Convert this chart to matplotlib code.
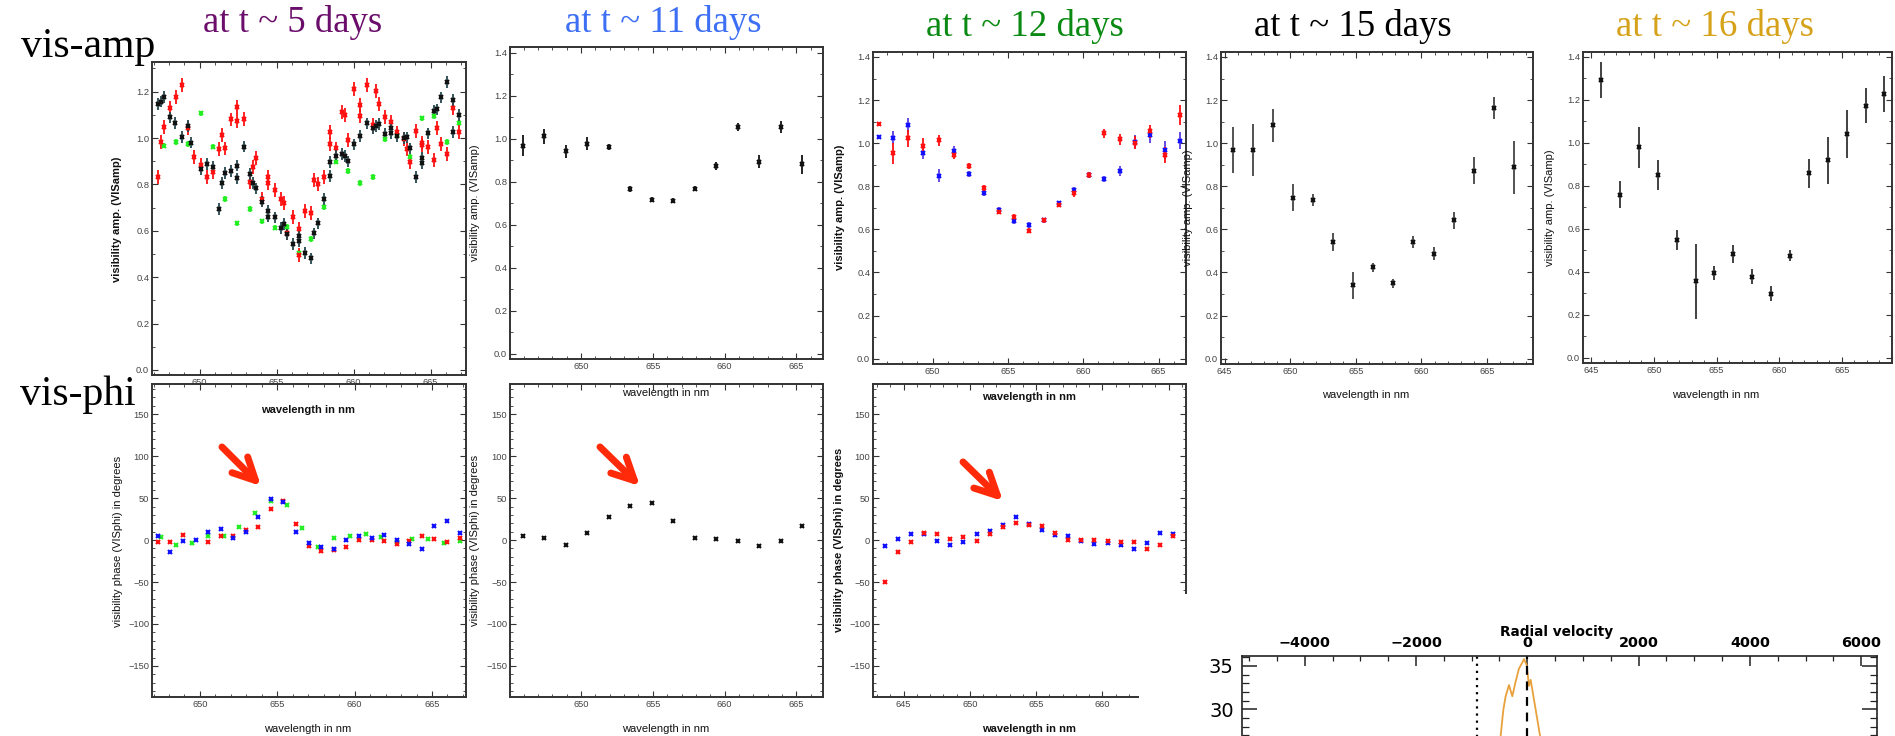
"""Visibility amplitude / phase panels at several epochs + radial velocity inset."""
import numpy as np
import matplotlib
matplotlib.use("Agg")
import matplotlib.pyplot as plt
from matplotlib.patches import FancyArrowPatch, Rectangle
from matplotlib.ticker import MultipleLocator, FixedLocator

plt.rcParams.update({"font.family": ["Liberation Sans", "DejaVu Sans"], "axes.unicode_minus": True})

# ---- t ~ 5 days: amplitude (3 baselines) ----
lam5_k = [647.3, 647.5, 647.7, 648.05, 648.4, 648.85, 649.26, 649.46, 650.06, 650.45, 650.87, 651.26, 651.45,
          651.67, 652.06, 652.45, 652.45, 652.86, 653.25, 653.46, 653.66, 654.07, 654.46, 654.46, 654.87, 655.26,
          655.45, 655.67, 656.06, 656.43, 656.47, 656.84, 657.23, 657.45, 657.66, 658.05, 658.44, 658.44, 658.83,
          659.24, 659.44, 659.65, 660.04, 660.43, 660.84, 661.23, 661.43, 661.65, 662.03, 662.45, 662.45, 662.84,
          663.25, 663.44, 663.64, 664.03, 664.44, 664.44, 664.83, 665.24, 665.43, 665.65, 666.04, 666.43, 666.43,
          666.84]
amp5_k = [1.147, 1.157, 1.178, 1.089, 1.066, 1.004, 1.052, 0.98, 0.865, 0.888, 0.876, 0.693, 0.807, 0.848, 0.859,
          0.881, 0.826, 0.963, 0.845, 0.807, 0.783, 0.726, 0.687, 0.661, 0.658, 0.612, 0.629, 0.585, 0.543, 0.579,
          0.556, 0.503, 0.481, 0.589, 0.632, 0.736, 0.897, 0.836, 0.922, 0.931, 0.922, 0.899, 0.973, 1.009, 1.063,
          1.042, 1.052, 1.06, 1.017, 1.045, 1.023, 1.009, 0.999, 1.003, 0.955, 0.833, 0.914, 0.891, 1.02, 1.118,
          1.124, 1.175, 1.243, 1.164, 1.027, 1.099]
lam5_r = [647.3, 647.47, 647.66, 648.05, 648.44, 648.85, 649.26, 649.65, 650.06, 650.45, 650.87, 651.26, 651.45,
          651.67, 652.06, 652.45, 652.45, 652.86, 653.25, 653.46, 653.66, 654.07, 654.46, 654.46, 654.87, 655.26,
          655.45, 655.67, 656.06, 656.43, 656.47, 656.84, 657.23, 657.45, 657.66, 658.05, 658.44, 658.44, 658.83,
          659.24, 659.44, 659.65, 660.04, 660.43, 660.43, 660.84, 661.23, 661.43, 661.65, 662.03, 662.45, 662.84,
          663.25, 663.44, 663.64, 664.03, 664.44, 664.44, 664.83, 665.24, 665.43, 665.65, 666.04, 666.43, 666.84]
amp5_r = [0.833, 0.984, 1.049, 1.128, 1.178, 1.228, 1.042, 0.92, 0.884, 0.833, 0.855, 0.951, 1.013, 0.955, 1.08,
          1.135, 1.075, 1.082, 0.812, 0.876, 0.912, 0.737, 0.833, 0.805, 0.776, 0.737, 0.721, 0.592, 0.658, 0.606,
          0.496, 0.685, 0.675, 0.819, 0.8, 0.833, 1.027, 0.973, 0.955, 1.111, 1.099, 0.991, 1.21, 1.142, 1.096,
          1.227, 1.056, 1.204, 1.147, 1.092, 1.07, 1.024, 0.994, 0.953, 0.898, 1.03, 0.98, 0.968, 0.963, 0.905,
          1.042, 0.974, 0.931, 1.128, 1.027]
lam5_g = [647.66, 648.44, 649.26, 650.06, 650.87, 651.67, 652.45, 653.25, 654.07, 654.87, 655.67, 656.47, 657.23,
          658.05, 658.83, 659.65, 660.43, 661.23, 662.03, 662.84, 663.64, 664.44, 665.24, 666.04, 666.84]
amp5_g = [0.967, 0.984, 0.974, 1.106, 0.963, 0.736, 0.632, 0.693, 0.641, 0.614, 0.618, 0.503, 0.565, 0.701,
          0.898, 0.859, 0.805, 0.833, 0.994, 1.013, 0.92, 1.085, 1.095, 0.984, 1.066]
err5 = {"k": 0.025, "r": 0.03, "g": 0.012}

# ---- t ~ 5 days: phase ----
lamp5_b = [647.3, 648.08, 648.9, 649.72, 650.52, 651.34, 652.14, 652.96, 653.78, 654.58, 655.4, 656.2, 657.04,
           657.84, 658.66, 659.46, 660.28, 661.1, 661.92, 662.72, 663.54, 664.36, 665.16, 665.98, 666.78]
phi5_b = [4.8, -14.4, -0.8, -0.4, 9.2, 13.2, 2.8, 10, 27.6, 48.8, 45.6, 9.6, -3.2, -8.8, -11.2, 0.4, 5.2, 2, 6, 0,
          -5.2, -10.4, 16.8, 22.8, 8.4]
lamp5_r = [647.3, 648.08, 648.9, 650.52, 651.34, 652.14, 652.96, 653.78, 654.58, 655.4, 656.2, 657.04, 657.84,
           658.66, 659.46, 660.28, 661.1, 661.92, 662.72, 663.54, 664.36, 665.16, 665.98, 666.78]
phi5_r = [-2.4, -2, 6, -2.8, 5.2, 4.8, 12, 15.6, 37.6, 46.8, 18.8, -7.2, -12.8, -12, -8, 0, 0, -0.8, -4.4, -1.6,
          5.2, 1.2, -2.4, 2.8]
lamp5_g = [647.5, 648.48, 649.48, 650.52, 651.54, 652.55, 653.57, 654.58, 655.63, 656.62, 657.66, 658.66, 659.7,
           660.71, 661.73, 662.72, 663.74, 664.76, 665.79, 666.78]
phi5_g = [3.6, -5.6, -3.6, 4.8, 5.2, 15.2, 32.8, 46, 41.6, 14.4, -8, 2.8, 5.2, 7.2, 3.2, -2.8, 0.8, 0.8, -4, -0.8]

# ---- t ~ 11 days ----
lam11 = [645.94, 647.43, 648.93, 650.42, 651.92, 653.41, 654.92, 656.42, 657.91, 659.41, 660.9, 662.4, 663.91, 665.39]
amp11 = [0.967, 1.01, 0.941, 0.976, 0.962, 0.766, 0.716, 0.712, 0.767, 0.874, 1.055, 0.893, 1.055, 0.88]
err11 = [0.05, 0.035, 0.03, 0.03, 0.015, 0.015, 0.012, 0.012, 0.012, 0.018, 0.018, 0.03, 0.028, 0.045]
phi11 = [4.4, 2, -5.6, 7.9, 27.8, 40.5, 44, 22.2, 2, 1.2, -0.8, -7.5, -0.8, 16.3]

# ---- t ~ 12 days ----
lam12 = [646.45, 647.39, 648.38, 649.38, 650.4, 651.4, 652.39, 653.39, 654.41, 655.41, 656.4, 657.4, 658.4,
         659.42, 660.41, 661.41, 662.41, 663.41, 664.43, 665.42, 666.42]
amp12_b = [1.029, 1.025, 1.084, 0.952, 0.849, 0.963, 0.857, 0.77, 0.69, 0.639, 0.62, 0.644, 0.722, 0.783, 0.852,
           0.833, 0.871, 1.006, 1.037, 0.968, 1.011]
err12_b = [0.005, 0.03, 0.035, 0.025, 0.03, 0.025, 0.015, 0.015, 0.012, 0.012, 0.012, 0.01, 0.01, 0.015, 0.015,
           0.015, 0.025, 0.03, 0.035, 0.04, 0.04]
amp12_r = [1.087, 0.952, 1.022, 0.989, 1.014, 0.945, 0.894, 0.793, 0.681, 0.659, 0.594, 0.641, 0.715, 0.767, 0.852,
           1.045, 1.017, 1.002, 1.056, 0.945, 1.13]
err12_r = [0.005, 0.05, 0.04, 0.035, 0.025, 0.02, 0.015, 0.015, 0.012, 0.012, 0.01, 0.012, 0.01, 0.015, 0.015,
           0.02, 0.025, 0.03, 0.03, 0.035, 0.045]
lamp12 = [643.62, 644.6, 645.58, 646.56, 647.56, 648.54, 649.52, 650.53, 651.51, 652.49, 653.49, 654.47, 655.45,
          656.43, 657.44, 658.42, 659.4, 660.4, 661.38, 662.36, 663.37, 664.35, 665.33]
phi12_b = [-7.5, 1.6, 7.5, 7.1, -1.6, -5.6, -2.8, 7.5, 11.1, 17.5, 27.8, 19, 11.5, 6, 4.4, -1.6, -5.2, -4, -6,
           -10.7, -4, 8.7, 7.1]
phi12_r = [-50.4, -14.7, -2, 7.9, 6.7, 0.8, 4, -1.2, 6.7, 15.1, 20.2, 17.9, 16.3, 8.3, -0.4, -0.4, 0.4, -0.8, -2.8,
           -2.8, -10.7, -5.6, 4.4]

# ---- t ~ 15 days ----
lam15 = [645.64, 647.19, 648.71, 650.23, 651.75, 653.29, 654.81, 656.33, 657.85, 659.37, 660.94, 662.46, 663.98,
         665.5, 667.03]
amp15 = [0.968, 0.968, 1.083, 0.747, 0.736, 0.54, 0.34, 0.423, 0.35, 0.54, 0.486, 0.641, 0.872, 1.164, 0.887]
err15 = [0.108, 0.12, 0.076, 0.062, 0.03, 0.042, 0.063, 0.02, 0.02, 0.028, 0.03, 0.04, 0.062, 0.05, 0.123]

# ---- t ~ 16 days ----
lam16 = [645.75, 647.27, 648.79, 650.28, 651.8, 653.32, 654.81, 656.33, 657.83, 659.35, 660.87, 662.36, 663.88,
         665.37, 666.89, 668.39]
amp16 = [1.292, 0.758, 0.979, 0.849, 0.548, 0.355, 0.395, 0.482, 0.377, 0.298, 0.474, 0.858, 0.918, 1.042, 1.173,
         1.227]
err16 = [0.083, 0.063, 0.095, 0.07, 0.046, 0.174, 0.033, 0.042, 0.034, 0.034, 0.026, 0.068, 0.11, 0.112, 0.081,
         0.085]

# ---- radial velocity profile (only the top of it is visible) ----
rv_vel = [-560, -480, -432, -390, -330, -270, -210, -150, -90, -60, -12, 30, 60, 120, 180, 240, 300]
rv_flux = [22.0, 26.9, 29.9, 31.5, 32.8, 31.5, 33.2, 34.7, 35.4, 35.8, 35.1, 32.7, 33.4, 31.1, 28.8, 26.5, 24.0]
rv_yticks = [30, 35]

W, H = 1895, 736
fig = plt.figure(figsize=(W / 100, H / 100), dpi=100)
RED, GRN, BLU = "#ff1010", "#22ee22", "#1010ff"


def px_ax(l, t, r, b):
    return fig.add_axes([l / W, 1 - b / H, (r - l) / W, (b - t) / H])


def ftxt(x, y, s, **kw):
    return fig.text(x / W, 1 - y / H, s, **kw)


def style(ax, xlim, ylim, phase=False):
    ax.set_xlim(*xlim); ax.set_ylim(*ylim)
    ax.xaxis.set_major_locator(MultipleLocator(5)); ax.xaxis.set_minor_locator(MultipleLocator(1))
    if phase:
        ax.yaxis.set_major_locator(MultipleLocator(50)); ax.yaxis.set_minor_locator(MultipleLocator(10))
    else:
        ax.yaxis.set_major_locator(MultipleLocator(0.2)); ax.yaxis.set_minor_locator(MultipleLocator(0.1))
    ax.tick_params(which="both", direction="in", top=True, right=True, labelsize=6.7,
                   labelcolor="#444", color="#333", pad=2)
    ax.tick_params(which="major", length=4, width=0.8)
    ax.tick_params(which="minor", length=2, width=0.6)
    for s in ax.spines.values():
        s.set_linewidth(1.4); s.set_color("#333")


def eb(ax, x, y, e, c, ec=None):
    ax.errorbar(x, y, yerr=e, fmt="x", ms=3.5, mew=1.5, color=c, ecolor=ec or c, elinewidth=1.3, capsize=0)


def pts(ax, x, y, c):
    ax.plot(x, y, "x", ms=3.5, mew=1.5, color=c)


# column 1: t ~ 5 days
a = px_ax(152, 62, 466, 375); style(a, (646.9, 667.3), (-0.022, 1.328))
eb(a, lam5_g, amp5_g, err5["g"], GRN)
eb(a, lam5_r, amp5_r, err5["r"], RED)
eb(a, lam5_k, amp5_k, err5["k"], "#111", "#24474c")
a = px_ax(152, 384, 466, 697); style(a, (646.9, 667.2), (-187, 186), phase=True)
pts(a, lamp5_g, phi5_g, GRN); pts(a, lamp5_r, phi5_r, RED); pts(a, lamp5_b, phi5_b, BLU)

# column 2: t ~ 11 days
a = px_ax(510, 47, 823, 359); style(a, (645.06, 666.85), (-0.025, 1.426))
eb(a, lam11, amp11, err11, "#111")
a = px_ax(510, 384, 823, 697); style(a, (645.06, 666.85), (-187, 186), phase=True)
pts(a, lam11, phi11, "#111")

# column 3: t ~ 12 days
a = px_ax(873, 52, 1186, 364); style(a, (646.05, 666.82), (-0.025, 1.423))
eb(a, lam12, amp12_b, err12_b, BLU, "#5a3adf")
eb(a, lam12, amp12_r, err12_r, RED)
a = px_ax(873, 384, 1186, 697); style(a, (642.7, 666.3), (-187, 186), phase=True)
pts(a, lamp12, phi12_b, BLU); pts(a, lamp12, phi12_r, RED)

# columns 4, 5: t ~ 15, 16 days (amplitude only)
a = px_ax(1221, 52, 1533, 364); style(a, (644.73, 668.5), (-0.025, 1.423))
eb(a, lam15, amp15, err15, "#111", "#444")
a = px_ax(1583, 52, 1892, 363); style(a, (644.33, 669.0), (-0.025, 1.423))
eb(a, lam16, amp16, err16, "#111", "#333")

# pasted radial velocity plot covers the lower right corner
fig.add_artist(Rectangle((1139 / W, 0), (W - 1139) / W, (H - 594) / H, transform=fig.transFigure,
                         facecolor="white", edgecolor="none", zorder=2))
rv = px_ax(1242, 656, 1877, 900); rv.set_zorder(3)
rv.plot(rv_vel, rv_flux, color="#e8a13c", lw=1.3)
rv.axvline(0, color="black", lw=1.6, ls=(0, (4, 3)))
rv.axvline(-900, color="black", lw=1.6, ls=(0, (1, 2.2)))
rv.set_xlim(-5126, 6282); rv.set_ylim(8.0, 36.15)
rv.xaxis.set_major_locator(MultipleLocator(2000)); rv.xaxis.set_minor_locator(MultipleLocator(500))
rv.yaxis.set_major_locator(FixedLocator(rv_yticks)); rv.yaxis.set_minor_locator(MultipleLocator(1))
rv.tick_params(which="both", direction="in", top=True, right=True, bottom=False, labelbottom=False, labeltop=True,
               color="#222")
rv.tick_params(axis="x", which="major", length=7, width=1.1)
rv.tick_params(axis="x", which="minor", length=3.5, width=0.9)
rv.tick_params(axis="y", which="major", length=11, width=1.1)
rv.tick_params(axis="y", which="minor", length=5, width=0.9)
rv.tick_params(axis="x", labelsize=10.4, pad=4)
rv.tick_params(axis="y", labelsize=14, pad=6)
for lb in rv.get_xticklabels():
    lb.set_fontweight("bold"); lb.set_family("DejaVu Sans")
for lb in rv.get_yticklabels():
    lb.set_family("DejaVu Sans")
for s in rv.spines.values():
    s.set_linewidth(1.2); s.set_color("#222")
ftxt(1557, 632, "Radial velocity", fontsize=9.8, fontweight="bold", family="DejaVu Sans",
     ha="center", va="center", zorder=4)

# titles
serif = ["Liberation Serif", "DejaVu Serif"]
ftxt(88, 57, "vis-amp", fontsize=30, family=serif, ha="center", va="baseline")
ftxt(78, 405, "vis-phi", fontsize=30, family=serif, ha="center", va="baseline")
for x, y, s, c in [(293, 32, "at t ~ 5 days", "#6b0d6b"), (663, 32, "at t ~ 11 days", "#3d6ff5"),
                   (1025, 36, "at t ~ 12 days", "#0b8a13"), (1353, 36, "at t ~ 15 days", "black"),
                   (1715, 36, "at t ~ 16 days", "#d6a21a")]:
    ftxt(x, y, s, fontsize=26.5, family=serif, color=c, ha="center", va="baseline")

# axis labels (placed like the pasted originals)
amp_lbl, phi_lbl, wl = "visibility amp. (VISamp)", "visibility phase (VISphi) in degrees", "wavelength in nm"
for x, y, s, w in [(117, 219, amp_lbl, "bold"), (118, 541, phi_lbl, "normal"), (475, 203, amp_lbl, "normal"),
                   (475, 540, phi_lbl, "normal"), (840, 207, amp_lbl, "bold"), (839, 540, phi_lbl, "bold"),
                   (1188, 208, amp_lbl, "normal"), (1550, 208, amp_lbl, "normal")]:
    ftxt(x, y, s, fontsize=8, fontweight=w, rotation=90, ha="center", va="center", color="#111")
for x, y, w in [(308, 729, "normal"), (666, 729, "normal"), (1029, 729, "bold"), (308, 410, "bold"),
                (666, 393, "normal"), (1029, 397, "bold"), (1366, 395, "normal"), (1716, 395, "normal")]:
    ftxt(x, y, wl, fontsize=8, fontweight=w, ha="center", va="center", color="#111")

# red arrows pointing at the phase bump
for (x0, y0), (x1, y1) in [((220, 445), (263, 488)), ((598, 445), (642, 488)), ((961, 460), (1005, 503))]:
    fig.add_artist(FancyArrowPatch((x0 / W, 1 - y0 / H), (x1 / W, 1 - y1 / H), transform=fig.transFigure,
                                   arrowstyle="->,head_length=1.6,head_width=0.8", mutation_scale=10,
                                   color="#ff2a0a", lw=5, capstyle="round", joinstyle="round", zorder=5))

fig.savefig("out.png", dpi=100)
